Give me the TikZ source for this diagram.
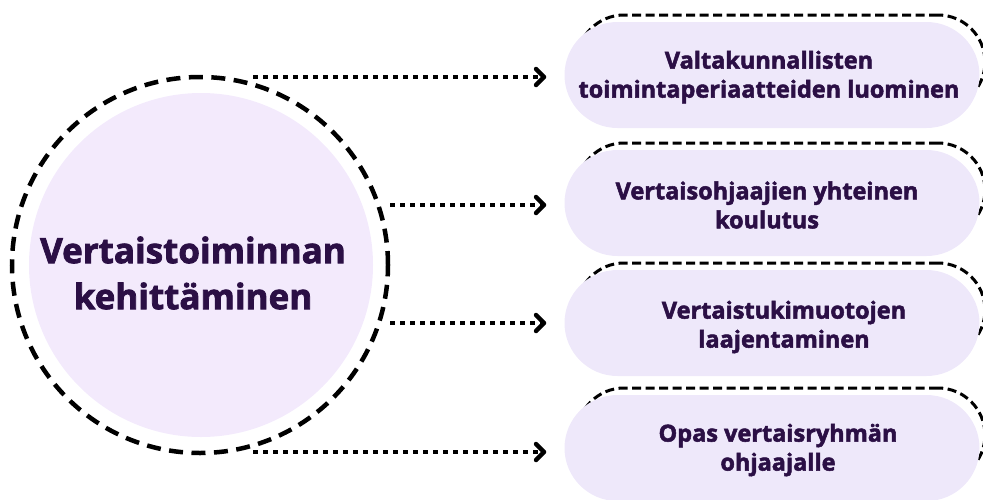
\documentclass[tikz,border=0pt]{standalone}
\usepackage{fontspec}
\setmainfont{Open Sans}[BoldFeatures={FakeBold=2.2}]
\usetikzlibrary{arrows.meta,calc}
\definecolor{circfill}{HTML}{F3EAFC}
\definecolor{pillfill}{HTML}{EEE8FA}
\definecolor{txt}{HTML}{2B0F45}
\tikzset{
  pillout/.style={draw=black, line width=3pt, dash pattern=on 9pt off 4.5pt, rectangle, rounded corners=47pt, minimum width=408pt, minimum height=94pt, inner sep=0pt},
  pillbody/.style={fill=pillfill, rectangle, rounded corners=53pt, minimum width=415pt, minimum height=106pt, inner sep=0pt},
  pilltext/.style={text=txt, font=\bfseries\fontsize{23.5}{29}\selectfont, align=center, inner sep=0pt},
  conn/.style={line width=4.5pt, dash pattern=on 5pt off 5pt, -{Straight Barb[length=8pt,width=16pt,round]}},
}
\begin{document}
\begin{tikzpicture}[x=1pt,y=-1pt]
\useasboundingbox (0,0) rectangle (983,499);
% central circle
\node[circle, draw=black, line width=4.5pt, dash pattern=on 14pt off 8.5pt, minimum size=376pt, inner sep=0pt] (ring) at (200,265) {};
\node[circle, fill=circfill, minimum size=344pt, inner sep=0pt] (c) at (201,265) {};
\node[text=txt, font=\bfseries\fontsize{35}{46}\selectfont, align=center, inner sep=0pt] (ct) at (193,273) {Vertaistoiminnan\\kehittäminen};
% pills
\node[pillout] (o1) at (781,62) {};
\node[pillbody] (p1) at (772,75) {};
\node[pilltext] (t1) at (769,77) {Valtakunnallisten\\toimintaperiaatteiden luominen};
\node[pillout] (o2) at (781,190) {};
\node[pillbody] (p2) at (772,203) {};
\node[pilltext] (t2) at (767,205) {Vertaisohjaajien yhteinen\\koulutus};
\node[pillout] (o3) at (781,310) {};
\node[pillbody] (p3) at (772,323) {};
\node[pilltext] (t3) at (784,327) {Vertaistukimuotojen\\laajentaminen};
\node[pillout] (o4) at (781,435) {};
\node[pillbody] (p4) at (772,448) {};
\node[pilltext] (t4) at (778,450) {Opas vertaisryhmän\\ohjaajalle};
% connector starts
\coordinate (s1) at (253,77);
\coordinate (s2) at (390,205);
\coordinate (s3) at (390,323);
\coordinate (s4) at (253,452);
\draw[conn, shorten >=18pt] (s1) -- (s1 -| p1.west);
\draw[conn, shorten >=18pt] (s2) -- (s2 -| p2.west);
\draw[conn, shorten >=18pt] (s3) -- (s3 -| p3.west);
\draw[conn, shorten >=18pt] (s4) -- (s4 -| p4.west);
\end{tikzpicture}
\end{document}
